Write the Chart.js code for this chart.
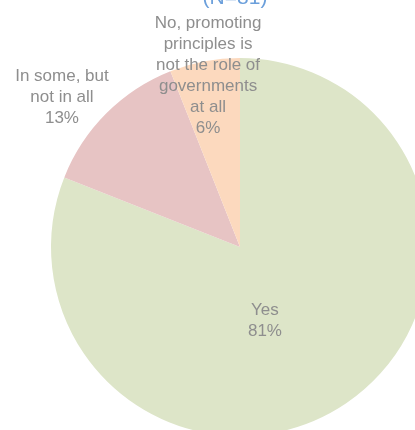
<!DOCTYPE html>
<html>
<head>
<meta charset="utf-8">
<script src="https://cdn.jsdelivr.net/npm/chart.js@4/dist/chart.umd.min.js"></script>
<style>
html,body{margin:0;padding:0;background:#fff;overflow:hidden;width:415px;height:430px;}
#wrap{position:absolute;left:0;top:-40px;width:480px;height:574px;}
</style>
</head>
<body>
<div id="wrap"><canvas id="c" width="480" height="574"></canvas></div>
<script>
const categories = ["Yes", "In some, but not in all", "No, promoting principles is not the role of governments at all"];
const labelLines = [["Yes"], ["In some, but", "not in all"], ["No, promoting", "principles is", "not the role of", "governments", "at all"]];
const values = [81, 13, 6];
const percentLabels = ["81%", "13%", "6%"];
const colors = ["#DDE5C8", "#E7C4C4", "#FCD9BE"];
const titleText = "(N=81)";
// label anchor offsets relative to pie centre, in units of the radius
const labelOffsets = [[0.132, 0.392], [-0.942, -0.794], [-0.169, -0.905]];

const labelPlugin = {
  id: 'labels',
  afterDatasetsDraw(chart) {
    const ctx = chart.ctx;
    const meta = chart.getDatasetMeta(0);
    const arc0 = meta.data[0];
    const cx = arc0.x, cy = arc0.y, r = arc0.outerRadius;
    ctx.save();
    ctx.fillStyle = '#8e8e8e';
    ctx.font = '17px "Liberation Sans", Helvetica, Arial, sans-serif';
    ctx.textAlign = 'center';
    ctx.textBaseline = 'middle';
    const lh = 21;
    meta.data.forEach((arc, i) => {
      const lines = labelLines[i].concat([percentLabels[i]]);
      const ax = cx + labelOffsets[i][0] * r;
      const ay = cy + labelOffsets[i][1] * r;
      const startY = ay - (lines.length - 1) * lh / 2;
      lines.forEach((t, k) => ctx.fillText(t, ax, startY + k * lh));
    });
    ctx.fillStyle = '#6B9FDB';
    ctx.font = '21px "Liberation Sans", Helvetica, Arial, sans-serif';
    ctx.textBaseline = 'alphabetic';
    ctx.fillText(titleText, cx - 5, cy - r - 54);
    ctx.restore();
  }
};

new Chart(document.getElementById('c'), {
  type: 'pie',
  data: {
    labels: categories,
    datasets: [{
      data: values,
      backgroundColor: colors,
      borderWidth: 0
    }]
  },
  options: {
    responsive: false,
    animation: false,
    layout: { padding: { left: 51, right: 51, top: 98, bottom: 98 } },
    plugins: {
      legend: { display: false },
      tooltip: { enabled: false },
      title: { display: false }
    }
  },
  plugins: [labelPlugin]
});
</script>
</body>
</html>
